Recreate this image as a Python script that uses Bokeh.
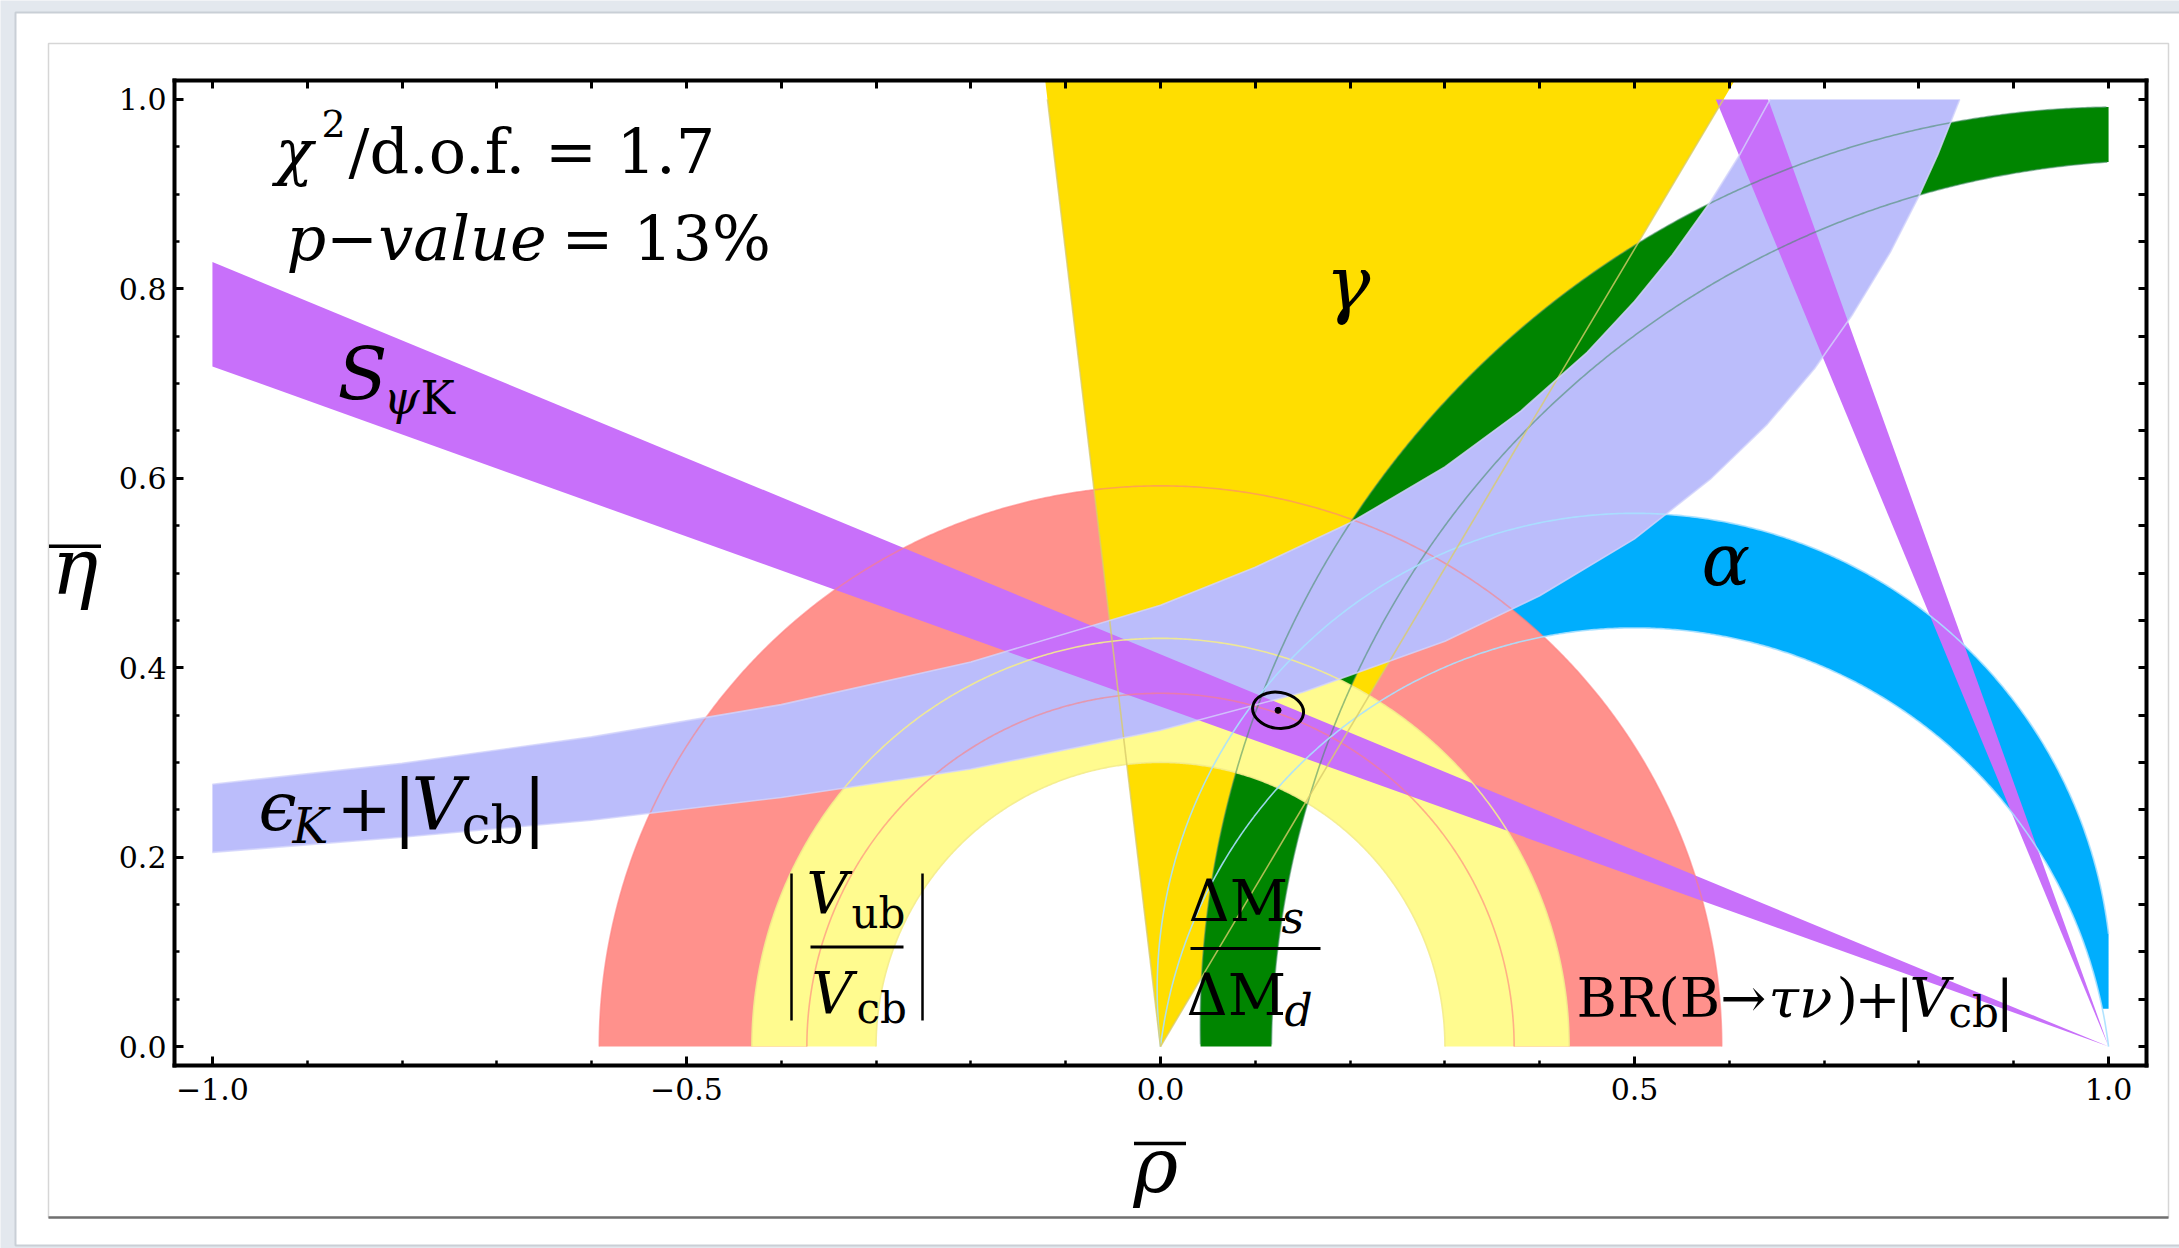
import numpy as np
from bokeh.plotting import figure
from bokeh.models import Label, LinearAxis, FixedTicker
from bokeh.embed import file_html
from bokeh.resources import INLINE

# ---- constraints in the (rho-bar, eta-bar) plane -------------------------
vub_vcb_radii = [0.300, 0.431]            # |Vub/Vcb| ring about the origin
btaunu_radii = [0.373, 0.592]             # BR(B->tau nu)+|Vcb| ring about the origin
gamma_edges_deg = [59.3, 96.8]            # gamma wedge opening at the origin
beta_edges_deg = [19.75, 22.5]            # S_psiK: beta and 90-beta, apex at (1, 0)
dm_outer_circle = [1.012, 0.022, 0.970]   # DeltaMs/DeltaMd edge: centre rho, centre eta, radius
dm_inner_circle = [1.062, -0.009, 0.945]
alpha_arc_tops = [0.442, 0.563]           # alpha arcs through (0,0) and (1,0): apex height
alpha_eta_min = 0.04
epsk_low_rho = [-1.0, -0.8, -0.6, -0.4, -0.2, 0.0, 0.15, 0.3, 0.4, 0.5, 0.58,
                0.64, 0.69, 0.73, 0.77, 0.80, 0.82, 0.843]
epsk_low_eta = [0.205, 0.221, 0.239, 0.263, 0.293, 0.334, 0.374, 0.428, 0.476, 0.536, 0.599,
                0.657, 0.716, 0.773, 0.839, 0.898, 0.942, 1.0]
epsk_high_rho = [-1.0, -0.8, -0.6, -0.4, -0.2, 0.0, 0.1, 0.2, 0.3, 0.38, 0.45, 0.5,
                 0.54, 0.58, 0.61, 0.643]
epsk_high_eta = [0.277, 0.299, 0.327, 0.361, 0.406, 0.466, 0.506, 0.553, 0.612, 0.671, 0.733,
                 0.787, 0.836, 0.892, 0.940, 1.0]
fit_point = [0.124, 0.355]
fit_ellipse = [0.054, 0.038, -0.15]       # width, height, tilt (rad)

x_major = [-1.0, -0.5, 0.0, 0.5, 1.0]
x_major_labels = ["−1.0", "−0.5", "0.0", "0.5", "1.0"]
x_minor = [-0.9, -0.8, -0.7, -0.6, -0.4, -0.3, -0.2, -0.1,
           0.1, 0.2, 0.3, 0.4, 0.6, 0.7, 0.8, 0.9]
y_major = [0.0, 0.2, 0.4, 0.6, 0.8, 1.0]
y_major_labels = ["0.0", "0.2", "0.4", "0.6", "0.8", "1.0"]
y_minor = [0.05, 0.1, 0.15, 0.25, 0.3, 0.35, 0.45, 0.5, 0.55,
           0.65, 0.7, 0.75, 0.85, 0.9, 0.95]

C_SALMON = "#ff918c"
C_YELLOW = "#fffb8f"
C_GOLD = "#ffde00"
C_GREEN = "#008500"
C_LAV = "#bbbdfb"
C_PURPLE = "#c870fa"
C_BLUE = "#00aefd"
FONT = "DejaVu Serif"

# ---- page / frame geometry (pixels) ---------------------------------------
W, H = 2179, 1248
FL, FT, FW, FH = 174, 80, 1972, 985        # plot box on the page
X0, X1, Y0, Y1 = -1.04, 1.04, -0.02, 1.02  # plot box in data units


def cx(px):
    return X0 + (px - FL) / FW * (X1 - X0)


def cy(py):
    return Y1 - (py - FT) / FH * (Y1 - Y0)


p = figure(width=W, height=H, x_range=(cx(0), cx(W)), y_range=(cy(H), cy(0)),
           output_backend="svg", toolbar_location=None, title=None,
           min_border=0, min_border_left=0, min_border_right=0,
           min_border_top=0, min_border_bottom=0,
           background_fill_color="#e3e8ee", border_fill_color="#e3e8ee",
           outline_line_color=None)
p.xgrid.visible = False
p.ygrid.visible = False

# slide panel
p.quad(left=[cx(15)], right=[cx(W + 20)], top=[cy(12)], bottom=[cy(1245)],
       fill_color="white", line_color="#c9cfd6", line_width=2)
p.quad(left=[cx(48)], right=[cx(2168)], top=[cy(43)], bottom=[cy(1217)],
       fill_color=None, line_color="#d6d6d6", line_width=1.5)
p.segment(x0=[cx(48)], y0=[cy(1217)], x1=[cx(2168)], y1=[cy(1217)],
          line_color="#707070", line_width=2.5)


# ---- geometry helpers -----------------------------------------------------
def clip_poly(xs, ys, x0, x1, y0, y1):
    pts = list(zip(xs, ys))

    def clip(pts, inside, inter):
        out = []
        for i in range(len(pts)):
            cur, prev = pts[i], pts[i - 1]
            if inside(cur):
                if not inside(prev):
                    out.append(inter(prev, cur))
                out.append(cur)
            elif inside(prev):
                out.append(inter(prev, cur))
        return out

    def at_x(a, b, x):
        t = (x - a[0]) / (b[0] - a[0])
        return (x, a[1] + t * (b[1] - a[1]))

    def at_y(a, b, y):
        t = (y - a[1]) / (b[1] - a[1])
        return (a[0] + t * (b[0] - a[0]), y)

    pts = clip(pts, lambda q: q[0] >= x0, lambda a, b: at_x(a, b, x0))
    pts = clip(pts, lambda q: q[0] <= x1, lambda a, b: at_x(a, b, x1))
    pts = clip(pts, lambda q: q[1] >= y0, lambda a, b: at_y(a, b, y0))
    pts = clip(pts, lambda q: q[1] <= y1, lambda a, b: at_y(a, b, y1))
    return [q[0] for q in pts], [q[1] for q in pts]


def arc(cx_, cy_, r, a0, a1, n=600):
    t = np.radians(np.linspace(a0, a1, n))
    return cx_ + r * np.cos(t), cy_ + r * np.sin(t)


def in_domain(x, y):
    x = np.array(x, dtype=float)
    y = np.array(y, dtype=float)
    m = (x < -1) | (x > 1) | (y < 0) | (y > 1)
    x[m] = np.nan
    y[m] = np.nan
    return x, y


def ring(r_in, r_out):
    xo, yo = arc(0, 0, r_out, 0, 180)
    xi, yi = arc(0, 0, r_in, 180, 0)
    return list(xo) + list(xi), list(yo) + list(yi)


def alpha_circle(top):
    h = (top ** 2 - 0.25) / (2 * top)
    return 0.5, h, top - h


def fill(xs, ys, color, box=(-1, 1, 0, 1)):
    x, y = clip_poly(xs, ys, *box)
    p.patch(x, y, fill_color=color, line_color=None)


# ---- filled regions, bottom to top ----------------------------------------
ua, la = alpha_circle(alpha_arc_tops[1]), alpha_circle(alpha_arc_tops[0])
a_u0 = np.degrees(np.arctan2(-ua[1], 0.5))
a_l0 = np.degrees(np.arctan2(-la[1], 0.5))
xu, yu = arc(ua[0], ua[1], ua[2], a_u0, 180 - a_u0)
xl, yl = arc(la[0], la[1], la[2], 180 - a_l0, a_l0)
fill(list(xu) + list(xl), list(yu) + list(yl), C_BLUE, (-1, 1, alpha_eta_min, 1))

fill(*ring(*btaunu_radii), C_SALMON)

L = 3.0
g = np.radians(gamma_edges_deg)
fill([0, L * np.cos(g[0]), L * np.cos(g[1])], [0, L * np.sin(g[0]), L * np.sin(g[1])],
     C_GOLD, (X0, X1, 0, Y1))

xo, yo = arc(*dm_outer_circle, 184, 84)
xi, yi = arc(*dm_inner_circle, 84, 184)
fill(list(xo) + list(xi), list(yo) + list(yi), C_GREEN)

fill(*ring(*vub_vcb_radii), C_YELLOW)

fill(epsk_low_rho + epsk_high_rho[::-1], epsk_low_eta + epsk_high_eta[::-1], C_LAV)

for b_lo, b_hi in [(beta_edges_deg[0], beta_edges_deg[1]),
                   (90 - beta_edges_deg[1], 90 - beta_edges_deg[0])]:
    a1, a2 = np.radians(180 - b_lo), np.radians(180 - b_hi)
    fill([1, 1 + L * np.cos(a1), 1 + L * np.cos(a2)], [0, L * np.sin(a1), L * np.sin(a2)],
         C_PURPLE)

# ---- thin edge lines drawn over everything ---------------------------------
for r in btaunu_radii:
    p.line(*arc(0, 0, r, 0, 180), line_color="#ff7f7f", line_alpha=0.6, line_width=1.6)
for r in vub_vcb_radii:
    p.line(*arc(0, 0, r, 0, 180), line_color="#f4ec8c", line_alpha=0.9, line_width=1.6)
for c in (dm_outer_circle, dm_inner_circle):
    p.line(*in_domain(*arc(*c, 184, 84)), line_color="#3f8a60", line_alpha=0.55,
           line_width=1.6)
for c in (ua, la):
    a0 = np.degrees(np.arctan2(-c[1], 0.5))
    p.line(*in_domain(*arc(c[0], c[1], c[2], a0, 180 - a0)), line_color="#a9e0ff",
           line_alpha=0.9, line_width=1.6)
for gd in gamma_edges_deg:
    t = np.radians(gd)
    p.line([0, np.cos(t) / np.sin(t)], [0, 1.0], line_color="#d9cc6a",
           line_alpha=0.8, line_width=1.6)
p.line(epsk_low_rho, epsk_low_eta, line_color="#d3d4fb", line_alpha=0.8, line_width=1.6)
p.line(epsk_high_rho, epsk_high_eta, line_color="#d3d4fb", line_alpha=0.8, line_width=1.6)

# ---- fit result ------------------------------------------------------------
p.ellipse(x=[fit_point[0]], y=[fit_point[1]], width=[fit_ellipse[0]],
          height=[fit_ellipse[1]], angle=[fit_ellipse[2]], fill_color=None,
          line_color="black", line_width=3)
p.scatter(x=[fit_point[0]], y=[fit_point[1]], size=6, color="black")

# ---- axes on the four sides of the plot box --------------------------------
ax_b, ax_l = p.below[0], p.left[0]
ax_t = LinearAxis()
ax_r = LinearAxis()
p.add_layout(ax_t, "above")
p.add_layout(ax_r, "right")
ax_b.fixed_location, ax_t.fixed_location = Y0, Y1
ax_l.fixed_location, ax_r.fixed_location = X0, X1
for ax in (ax_b, ax_t):
    ax.bounds = (X0, X1)
for ax in (ax_l, ax_r):
    ax.bounds = (Y0, Y1)
for ax in (ax_b, ax_l, ax_t, ax_r):
    ax.axis_line_width = 4
    ax.axis_line_color = "black"
    ax.axis_line_cap = "square"
    ax.major_tick_in = 9
    ax.major_tick_out = 0
    ax.minor_tick_in = 5
    ax.minor_tick_out = 0
    ax.major_tick_line_width = 3
    ax.minor_tick_line_width = 2.5
    ax.major_label_text_font = FONT
    ax.major_label_text_font_size = "30px"
    ax.major_label_text_color = "black"
    ax.axis_label = None
ax_b.ticker = FixedTicker(ticks=x_major, minor_ticks=x_minor)
ax_b.major_label_overrides = dict(zip(x_major, x_major_labels))
ax_b.major_label_standoff = 12
ax_l.ticker = FixedTicker(ticks=y_major, minor_ticks=y_minor)
ax_l.major_label_overrides = dict(zip(y_major, y_major_labels))
ax_l.major_label_standoff = 8
# unlabelled tick rows on the top and right sides
ax_t.ticker = FixedTicker(ticks=[], minor_ticks=sorted(x_major + x_minor))
ax_r.ticker = FixedTicker(ticks=[], minor_ticks=sorted(y_major + y_minor))
for ax in (ax_t, ax_r):
    ax.minor_tick_in = 8
    ax.minor_tick_line_width = 3


# ---- text -------------------------------------------------------------------
def txt(px, base_py, s, size, italic=False):
    # base_py is the baseline on the page
    p.add_layout(Label(x=cx(px), y=cy(base_py - 0.36 * size), text=s, text_font=FONT,
                       text_font_size=f"{size}px",
                       text_font_style="italic" if italic else "normal",
                       text_baseline="alphabetic", text_align="left",
                       text_color="black"))


def bar(px0, py0, px1, py1, w=3):
    p.segment(x0=[cx(px0)], y0=[cy(py0)], x1=[cx(px1)], y1=[cy(py1)],
              line_color="black", line_width=w)


# fit quality
txt(275, 173, "χ", 62, True)
txt(321, 137, "2", 38)
txt(348, 173, "/d.o.f. = 1.7", 62)
txt(286, 260, "p−value", 62, True)
txt(561, 260, "= 13%", 62)

# band labels
txt(337, 400, "S", 73, True)
txt(383, 414, "ψ", 46, True)
txt(420, 414, "K", 46)

txt(258, 830, "ϵ", 68, True)
txt(292, 843, "K", 48, True)
txt(336, 830, "+", 66)
txt(392, 832, "|", 72)
txt(411, 830, "V", 72, True)
txt(461, 843, "cb", 52)
txt(522, 832, "|", 72)

txt(1325, 309, "γ", 75, True)
txt(1701, 585, "α", 72, True)

bar(791, 873, 791, 1020, 2.5)
bar(922, 873, 922, 1020, 2.5)
txt(806, 913, "V", 57, True)
txt(851, 928, "ub", 42)
bar(810, 946.5, 903, 946.5, 3)
txt(811, 1013, "V", 57, True)
txt(856, 1023, "cb", 42)

txt(1188, 921, "ΔM", 57)
txt(1281, 933, "s", 44, True)
bar(1190, 948, 1320, 948, 3)
txt(1186, 1015, "ΔM", 57)
txt(1284, 1026, "d", 44, True)

txt(1576, 1017, "BR(B→", 55)
txt(1768, 1017, "τν", 55, True)
txt(1836, 1017, ")", 55)
txt(1854, 1017, "+", 55)
txt(1895, 1019, "|", 55)
txt(1909, 1017, "V", 55, True)
txt(1948, 1027, "cb", 42)
txt(1995, 1019, "|", 55)

# axis titles with bars
txt(51, 595, "η", 78, True)
bar(48.5, 545.7, 100.5, 545.7, 3.5)
txt(1133, 1192, "ρ", 76, True)
bar(1133.5, 1143, 1185.5, 1143, 3.5)

open("out.html", "w").write(file_html(p, INLINE))
